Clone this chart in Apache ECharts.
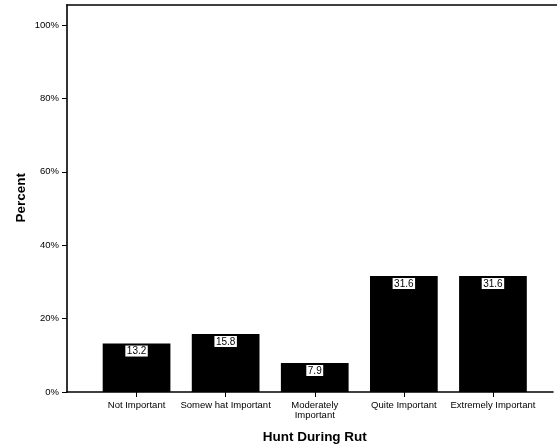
<!DOCTYPE html>
<html><head><meta charset="utf-8">
<script src="https://cdn.jsdelivr.net/npm/echarts@6/dist/echarts.min.js"></script>
<style>html,body{margin:0;padding:0;background:#fff}#c{width:558px;height:447px}</style>
</head><body><div id="c"></div>
<script>
const categories = ['Not Important', 'Somew hat Important', 'Moderately\nImportant', 'Quite Important', 'Extremely Important'];
const values = [13.2, 15.8, 7.9, 31.6, 31.6];
const yTicks = [0, 20, 40, 60, 80, 100];
const xTitle = 'Hunt During Rut';
const yTitle = 'Percent';

const FONT = '"Liberation Sans", Arial, sans-serif';
const chart = echarts.init(document.getElementById('c'), null, {renderer: 'canvas'});
chart.setOption({
  animation: false,
  backgroundColor: '#fff',
  textStyle: {fontFamily: FONT},
  grid: [
    {left: 67, right: 5, top: 5, bottom: 55, outerBoundsMode: 'none', containLabel: false},
    {left: 92, right: 20.5, top: 25, bottom: 55, outerBoundsMode: 'none', containLabel: false}
  ],
  xAxis: [
    {gridIndex: 0, type: 'value', min: 0, max: 1, position: 'bottom',
     axisLine: {show: true, onZero: false, lineStyle: {color: '#000', width: 1.6}}, axisTick: {show: false}, axisLabel: {show: false}, splitLine: {show: false}},
    {gridIndex: 1, type: 'category', data: categories,
     axisLine: {show: false, onZero: false},
     axisTick: {show: true, alignWithLabel: true, length: 5, lineStyle: {color: '#000', width: 1}},
     axisLabel: {color: '#000', fontSize: 9.5, fontFamily: FONT, margin: 8, lineHeight: 10.5, interval: 0},
     name: xTitle, nameLocation: 'middle', nameGap: 38,
     nameTextStyle: {color: '#000', fontSize: 13.5, fontWeight: 'bold', fontFamily: FONT}}
  ],
  yAxis: [
    {gridIndex: 0, type: 'value', min: 0, max: 1, position: 'left',
     axisLine: {show: true, onZero: false, lineStyle: {color: '#000', width: 1.6}}, axisTick: {show: false}, axisLabel: {show: false},
     splitLine: {show: false}},
    {gridIndex: 1, type: 'value', position: 'left', min: yTicks[0], max: yTicks[yTicks.length - 1], interval: 20, offset: 25,
     axisLine: {show: false, onZero: false},
     axisTick: {show: true, length: 5, lineStyle: {color: '#000', width: 1}},
     axisLabel: {color: '#000', fontSize: 9.5, fontFamily: FONT, margin: 8, formatter: v => v + '%'},
     splitLine: {show: false}}
  ],
  graphic: [
    {type: 'line', shape: {x1: 66.2, y1: 5, x2: 557, y2: 5},
     style: {stroke: '#000', lineWidth: 1.6}},
    {type: 'text', left: 14, top: 173,
     style: {text: yTitle, fill: '#000', font: 'bold 13.5px ' + FONT},
     rotation: Math.PI / 2, originX: 0, originY: 0}
  ],
  series: [{
    type: 'bar', xAxisIndex: 1, yAxisIndex: 1, data: values,
    barCategoryGap: '24%',
    itemStyle: {color: '#000'},
    label: {show: true, position: 'insideTop', distance: 2,
      color: '#000', fontSize: 10, fontFamily: FONT,
      backgroundColor: '#fff', borderColor: '#000', borderWidth: 1, padding: [1, 1.5, 0, 1.5],
      formatter: p => p.value.toFixed(1)}
  }]
});
</script></body></html>
